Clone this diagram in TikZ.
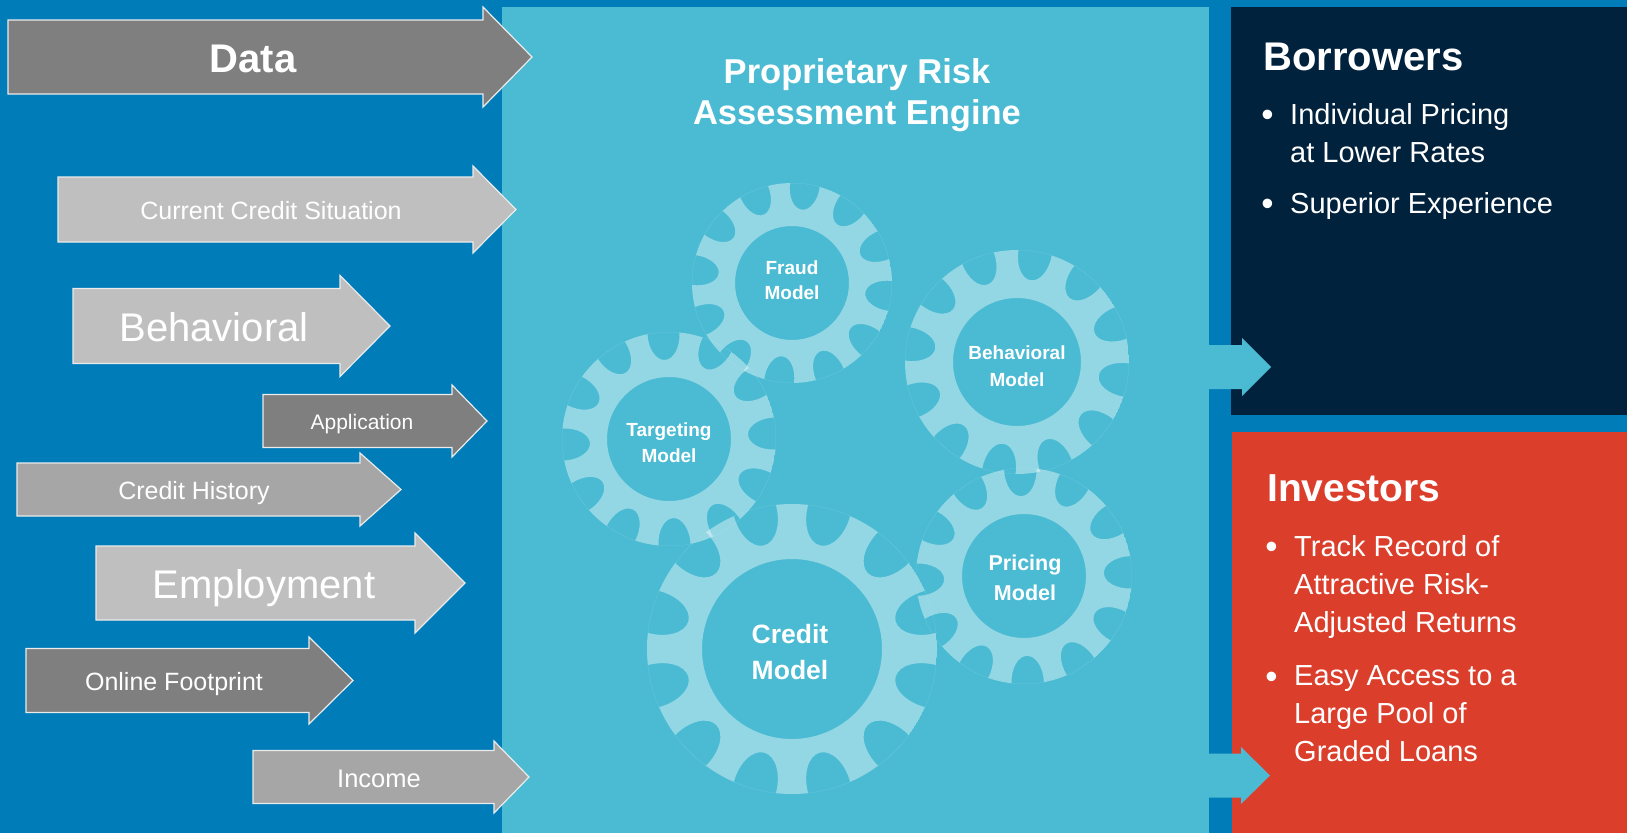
\documentclass[tikz,border=0pt]{standalone}
\usepackage{fontspec}
\setmainfont{Liberation Sans}
\usetikzlibrary{calc}

\definecolor{bgblue}{RGB}{0,125,185}
\definecolor{panelcyan}{RGB}{75,187,211}
\definecolor{navybox}{RGB}{0,34,61}
\definecolor{redbox}{RGB}{219,62,43}
\definecolor{grayA}{RGB}{127,127,127}
\definecolor{grayB}{RGB}{166,166,166}
\definecolor{grayC}{RGB}{191,191,191}

\newcommand\fsz[2]{\fontsize{#1}{#2}\selectfont}

% block arrow: #1 style, #2 tail x, #3 head base x, #4 tip x, #5 centre y, #6 half body, #7 half head
\newcommand\blockarrow[7]{%
  \path[#1] (#2,#5-#6) -- (#3,#5-#6) -- (#3,#5-#7) -- (#4,#5)
    -- (#3,#5+#7) -- (#3,#5+#6) -- (#2,#5+#6) -- cycle;}

% gear: #1 cx, #2 cy, #3 outer radius, #4 hole radius, #5 tooth angle offset
% twelve teeth; each gap is a half oval cut in from the rim
\newcommand\gearwheel[5]{%
  \begin{scope}
    \clip (#1,#2) circle[radius=#3];
    \fill[gearfill, even odd rule] (#1,#2) circle[radius=#3] (#1,#2) circle[radius=#4]
      \foreach \k in {0,...,11}{
        ($(#1,#2)+({-(#5+15+30*\k)}:{0.99*#3})$)
          circle[x radius={0.25*#3}, y radius={0.15*#3}, rotate={#5+15+30*\k}]
      };
  \end{scope}}

\begin{document}
\begin{tikzpicture}[x=1pt,y=-1pt,
  gearfill/.style={fill=white, fill opacity=0.4},
  arrowdark/.style={fill=grayA, draw=white!92!black, line width=1.2pt},
  arrowmid/.style={fill=grayB, draw=white!92!black, line width=1.2pt},
  arrowlight/.style={fill=grayC, draw=white!92!black, line width=1.2pt},
  outarrow/.style={fill=panelcyan},
  lbl/.style={text=white, inner sep=0pt, anchor=base},
  gearlbl/.style={text=white, inner sep=0pt, align=center, font=\bfseries},
  boxtitle/.style={text=white, inner sep=0pt, anchor=base west, font=\bfseries\fsz{40}{48}},
  item/.style={text=white, inner sep=0pt, anchor=north west, align=left, font=\fsz{29}{38}},
  dot/.style={text=white, inner sep=0pt, anchor=base, font=\fsz{35}{38}}]

\useasboundingbox (0,0) rectangle (1627,833);

% backgrounds
\fill[bgblue] (0,0) rectangle (1627,833);
\fill[panelcyan] (502,7) rectangle (1209,833);
\fill[navybox] (1231,7) rectangle (1627,415);
\fill[redbox] (1232,432) rectangle (1627,833);

% engine gears
\gearwheel{792}{283}{100}{57}{7.5}
\gearwheel{669}{439}{107}{62}{18}
\gearwheel{1017}{362}{112}{64}{5.6}
\gearwheel{792}{649}{145}{90}{0}
\gearwheel{1024}{576}{108}{62}{17}

\node[gearlbl, font=\bfseries\fsz{19}{25}] (fraud) at (792,280.5) {Fraud\\Model};
\node[gearlbl, font=\bfseries\fsz{19}{26}] (targeting) at (669,443) {Targeting\\Model};
\node[gearlbl, font=\bfseries\fsz{19}{27}] (behavioral) at (1017,366.5) {Behavioral\\Model};
\node[gearlbl, font=\bfseries\fsz{26.5}{36}] (credit) at (790,652) {Credit\\Model};
\node[gearlbl, font=\bfseries\fsz{21.5}{30}] (pricing) at (1025,578) {Pricing\\Model};

% engine title
\node[gearlbl, font=\bfseries\fsz{34.5}{41.5}] (engine) at (857,95) {Proprietary Risk\\Assessment Engine};

% data inputs
\blockarrow{arrowdark}{8}{483}{532}{57}{37}{50}
\node[lbl, font=\bfseries\fsz{40}{48}] (data) at (253,72) {Data};

\blockarrow{arrowlight}{58}{473}{516}{209.5}{32.5}{43.5}
\node[lbl, font=\fsz{25}{30}] (situation) at (271,219) {Current Credit Situation};

\blockarrow{arrowlight}{73}{340}{390}{326}{37.5}{50.5}
\node[lbl, font=\fsz{40}{48}] (behav) at (214,341) {Behavioral};

\blockarrow{arrowdark}{263}{452}{487}{421}{26.5}{36}
\node[lbl, font=\fsz{21}{26}] (application) at (362,429.5) {Application};

\blockarrow{arrowmid}{17}{360}{401}{489.5}{26.5}{36.5}
\node[lbl, font=\fsz{25}{30}] (history) at (194,499) {Credit History};

\blockarrow{arrowlight}{96}{415}{465}{583}{37}{50}
\node[lbl, font=\fsz{40}{48}] (employment) at (264,598) {Employment};

\blockarrow{arrowdark}{26}{309}{353}{680.5}{32}{43.5}
\node[lbl, font=\fsz{25}{30}] (online) at (174,690) {Online Footprint};

\blockarrow{arrowmid}{253}{494}{529}{777}{26.5}{36}
\node[lbl, font=\fsz{25.5}{30}] (income) at (379,787) {Income};

% outputs
\blockarrow{outarrow}{1205}{1242}{1271}{367}{22}{29}
\blockarrow{outarrow}{1205}{1241}{1270}{775.5}{22}{28.5}

% borrowers
\node[boxtitle] (borrowers) at (1263,70) {Borrowers};
\node[dot] (bdot1) at (1267.5,126.6) {•};
\node[item] (bitem1) at (1290,103.5) {Individual Pricing\\at Lower Rates};
\node[dot] (bdot2) at (1267.5,215.6) {•};
\node[item] (bitem2) at (1290,192.5) {Superior Experience};

% investors
\node[boxtitle, font=\bfseries\fsz{39}{47}] (investors) at (1267,501) {Investors};
\node[dot] (idot1) at (1271.5,558.6) {•};
\node[item] (iitem1) at (1294,535.5) {Track Record of\\Attractive Risk-\\Adjusted Returns};
\node[dot] (idot2) at (1271.5,688.6) {•};
\node[item] (iitem2) at (1294,665.5) {Easy Access to a\\Large Pool of\\Graded Loans};

\end{tikzpicture}
\end{document}
